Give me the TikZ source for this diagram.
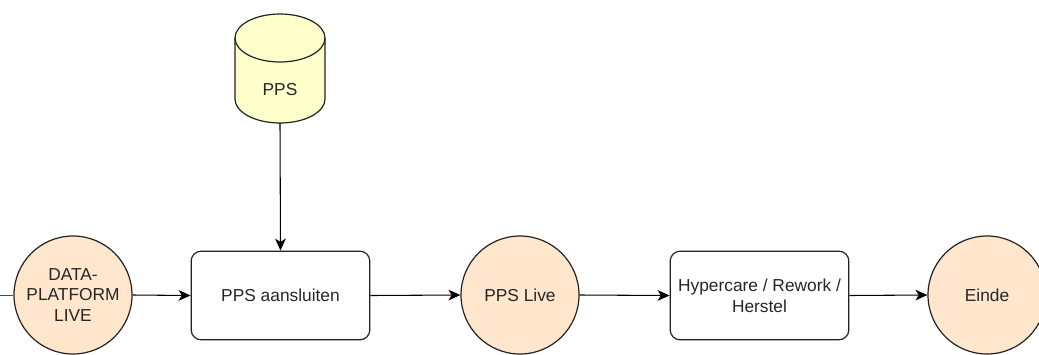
\documentclass[tikz,border=0pt]{standalone}
\usepackage{fontspec}
\setmainfont{Liberation Sans}
\usetikzlibrary{arrows.meta}
\definecolor{peach}{HTML}{FFE6CC}
\definecolor{cylfill}{HTML}{FFFFCC}
\definecolor{edge}{HTML}{222222}
\tikzset{
  stateC/.style={circle, draw=edge, fill=peach, line width=0.9pt, minimum size=88.5pt, inner sep=0pt, align=center, font=\fontsize{13}{15.5}\selectfont, text=black!85},
  procbox/.style={rectangle, rounded corners=7.5pt, draw=edge, line width=0.9pt, minimum width=134pt, minimum height=66.5pt, align=center, font=\fontsize{13}{15.5}\selectfont, text=black!85},
  flow/.style={draw=black, line width=0.8pt, -{Stealth[length=9pt,width=8pt,inset=2.5pt]}},
  cyl/.style={draw=edge, fill=cylfill, line width=0.9pt}
}
\begin{document}
\begin{tikzpicture}[x=0.75pt,y=-0.75pt]
\useasboundingbox (0,0) rectangle (1039,354);
% cylinder
\path[cyl] (235,38) -- (235,99) arc[start angle=180, end angle=360, x radius=33.75pt, y radius=18pt] -- (325,38) arc[start angle=0, end angle=180, x radius=33.75pt, y radius=18pt] -- cycle;
\draw[draw=edge, line width=0.9pt] (235,38) arc[start angle=180, end angle=360, x radius=33.75pt, y radius=18pt];
\node[font=\fontsize{13}{15.5}\selectfont, text=black!85] (pps) at (280,90) {PPS};
\coordinate (ppsbot) at (280,123);
% nodes
\node[stateC] (dp) at (73,295) {DATA-\\PLATFORM\\LIVE};
\node[procbox] (aan) at (280.5,295.5) {PPS aansluiten};
\node[stateC] (live) at (520,295) {PPS Live};
\node[procbox] (hyper) at (759.5,295.5) {Hypercare / Rework /\\Herstel};
\node[stateC] (einde) at (987,295) {Einde};
\coordinate (stub) at (0,295);
% connectors
\draw[draw=black!70, line width=0.6pt] (stub) -- (dp.west);
\draw[flow] (ppsbot) -- (aan.north);
\draw[flow] (dp.east) -- (aan.west);
\draw[flow] (aan.east) -- (live.west);
\draw[flow] (live.east) -- (hyper.west);
\draw[flow] (hyper.east) -- (einde.west);
\end{tikzpicture}
\end{document}
